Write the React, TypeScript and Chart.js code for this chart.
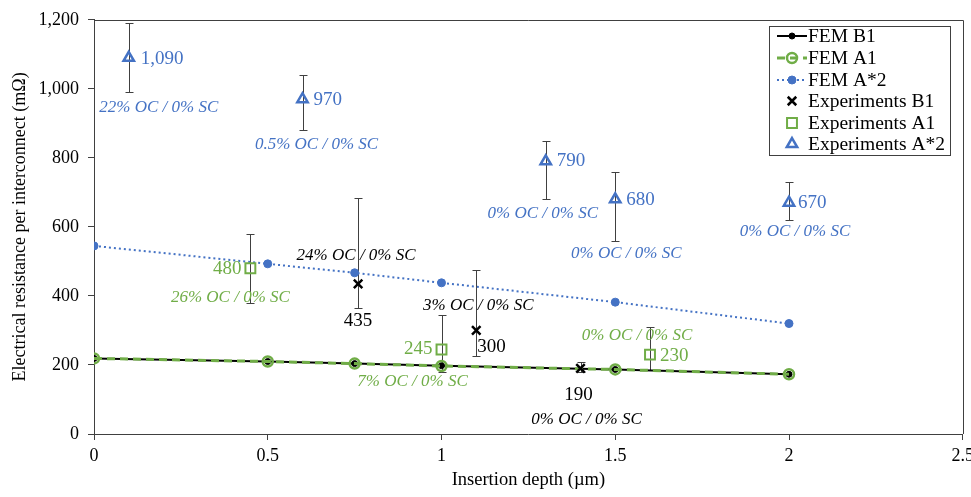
import { useEffect, useRef } from 'react';
import { Chart, registerables } from 'chart.js';
Chart.register(...registerables);

const xTicks = [0, 0.5, 1, 1.5, 2, 2.5];
const yTicks = [0, 200, 400, 600, 800, 1000, 1200];

const femX = [0, 0.5, 0.75, 1, 1.5, 2];
const femB1 = [219, 210, 204, 198, 187, 173];
const femA1 = [219, 210, 204, 197, 187, 173];
const femA2 = [545, 493, 467, 438, 382, 320];

const expB1X = [0.76, 1.1, 1.4];
const expB1Y = [435, 300, 190];
const expB1Lo = [365, 225, 180];
const expB1Hi = [685, 475, 210];
const expB1Cond = ['24% OC / 0% SC', '3% OC / 0% SC', '0% OC / 0% SC'];

const expA1X = [0.45, 1, 1.6];
const expA1Y = [480, 245, 230];
const expA1Lo = [380, 180, 185];
const expA1Hi = [580, 345, 310];
const expA1Cond = ['26% OC / 0% SC', '7% OC / 0% SC', '0% OC / 0% SC'];

const expA2X = [0.1, 0.6, 1.3, 1.5, 2];
const expA2Y = [1090, 970, 790, 680, 670];
const expA2Lo = [990, 880, 680, 560, 620];
const expA2Hi = [1190, 1040, 850, 760, 730];
const expA2Cond = ['22% OC / 0% SC', '0.5% OC / 0% SC', '0% OC / 0% SC', '0% OC / 0% SC', '0% OC / 0% SC'];

const legendLabels = ['FEM B1', 'FEM A1', 'FEM A*2', 'Experiments B1', 'Experiments A1', 'Experiments A*2'];

// label layout (pixel offsets from the marker): [value dx, value dy, value align, cond dx, cond dy]
const layoutB1: [number, number, CanvasTextAlign, number, number][] = [
  [0, 37, 'center', -2, -28],
  [1, 17, 'left', 2, -25],
  [-2, 27, 'center', 6, 51],
];
const layoutA1: [number, number, CanvasTextAlign, number, number][] = [
  [-9, 1, 'right', -20, 29],
  [-9, 0, 'right', -29, 32],
  [10, 1, 'left', -13, -19],
];
const layoutA2: [number, number, CanvasTextAlign, number, number][] = [
  [12, 1, 'left', 30, 50],
  [11, 1, 'left', 14, 45],
  [11, 0, 'left', -3, 52],
  [11, 1, 'left', 11, 54],
  [9, 0, 'left', 6, 29],
];

const BLUE = '#4472C4';
const GREEN = '#70AD47';
const BLACK = '#000000';
const SERIF = '"Liberation Serif", "Times New Roman", serif';

const fmt = (v: number) => v.toLocaleString('en-US');

function drawPoint(ctx: CanvasRenderingContext2D, style: string, r: number, x: number, y: number, fill: string) {
  ctx.beginPath();
  if (style === 'circle') {
    ctx.arc(x, y, r, 0, Math.PI * 2);
    if (fill !== 'transparent') ctx.fill();
    ctx.stroke();
  } else if (style === 'crossRot') {
    const d = r * Math.SQRT1_2;
    ctx.moveTo(x - d, y - d);
    ctx.lineTo(x + d, y + d);
    ctx.moveTo(x + d, y - d);
    ctx.lineTo(x - d, y + d);
    ctx.stroke();
  } else if (style === 'rect') {
    const s = r * Math.SQRT1_2;
    ctx.rect(x - s, y - s, s * 2, s * 2);
    ctx.stroke();
  } else if (style === 'triangle') {
    const h = r;
    const ang = Math.PI / 6;
    ctx.moveTo(x, y - h);
    ctx.lineTo(x + Math.cos(ang) * h, y + Math.sin(ang) * h);
    ctx.lineTo(x - Math.cos(ang) * h, y + Math.sin(ang) * h);
    ctx.closePath();
    ctx.stroke();
  }
}

export default function App() {
  const ref = useRef<HTMLCanvasElement>(null);
  useEffect(() => {
    if (!ref.current) return;
    const pts = (xs: number[], ys: number[]) => xs.map((x, i) => ({ x, y: ys[i] }));

    const errGroups = [
      { xs: expB1X, lo: expB1Lo, hi: expB1Hi },
      { xs: expA1X, lo: expA1Lo, hi: expA1Hi },
      { xs: expA2X, lo: expA2Lo, hi: expA2Hi },
    ];
    const labelGroups = [
      { xs: expB1X, ys: expB1Y, cond: expB1Cond, lay: layoutB1, color: BLACK },
      { xs: expA1X, ys: expA1Y, cond: expA1Cond, lay: layoutA1, color: GREEN },
      { xs: expA2X, ys: expA2Y, cond: expA2Cond, lay: layoutA2, color: BLUE },
    ];

    const extras = {
      id: 'extras',
      beforeDatasetsDraw(chart: any) {
        const ctx = chart.ctx;
        const xs = chart.scales.x;
        const ys = chart.scales.y;
        ctx.save();
        ctx.strokeStyle = '#404040';
        ctx.lineWidth = 1;
        errGroups.forEach((g) => {
          g.xs.forEach((x, i) => {
            const px = Math.round(xs.getPixelForValue(x)) + 0.5;
            const p1 = Math.round(ys.getPixelForValue(g.lo[i])) + 0.5;
            const p2 = Math.round(ys.getPixelForValue(g.hi[i])) + 0.5;
            ctx.beginPath();
            ctx.moveTo(px, p1);
            ctx.lineTo(px, p2);
            ctx.moveTo(px - 4, p1);
            ctx.lineTo(px + 4, p1);
            ctx.moveTo(px - 4, p2);
            ctx.lineTo(px + 4, p2);
            ctx.stroke();
          });
        });
        ctx.restore();
      },
      afterDraw(chart: any) {
        const ctx = chart.ctx;
        const xs = chart.scales.x;
        const ys = chart.scales.y;
        const a = chart.chartArea;
        ctx.save();
        // frame top/right
        ctx.strokeStyle = '#404040';
        ctx.lineWidth = 1;
        ctx.beginPath();
        ctx.moveTo(a.left, Math.round(a.top) + 0.5);
        ctx.lineTo(Math.round(a.right) + 0.5, Math.round(a.top) + 0.5);
        ctx.lineTo(Math.round(a.right) + 0.5, a.bottom);
        ctx.stroke();

        // labels
        ctx.textBaseline = 'middle';
        labelGroups.forEach((g) => {
          g.xs.forEach((x, i) => {
            const px = xs.getPixelForValue(x);
            const py = ys.getPixelForValue(g.ys[i]);
            const l = g.lay[i];
            ctx.fillStyle = g.color;
            ctx.font = `19px ${SERIF}`;
            ctx.textAlign = l[2];
            ctx.fillText(fmt(g.ys[i]), px + l[0], py + l[1]);
            ctx.font = `italic 17px ${SERIF}`;
            ctx.textAlign = 'center';
            ctx.fillText(g.cond[i], px + l[3], py + l[4]);
          });
        });

        // legend
        const lx = 769, ly = 26, lw = 181, lh = 129;
        ctx.fillStyle = '#ffffff';
        ctx.fillRect(lx, ly, lw, lh);
        ctx.strokeStyle = '#404040';
        ctx.lineWidth = 1;
        ctx.strokeRect(lx + 0.5, ly + 0.5, lw, lh);
        const rowY = [36, 58, 80, 101, 123, 144];
        const ds = chart.data.datasets;
        rowY.forEach((y, i) => {
          const d = ds[i];
          const cx = 792;
          if (i < 3) {
            ctx.save();
            ctx.strokeStyle = d.borderColor;
            ctx.lineWidth = d.borderWidth;
            ctx.setLineDash(d.borderDash || []);
            ctx.beginPath();
            ctx.moveTo(777, y);
            ctx.lineTo(807, y);
            ctx.stroke();
            ctx.restore();
          }
          ctx.save();
          ctx.strokeStyle = d.pointBorderColor;
          ctx.fillStyle = d.pointBackgroundColor;
          ctx.lineWidth = d.pointBorderWidth;
          drawPoint(ctx, d.pointStyle, d.pointRadius, cx, y, d.pointBackgroundColor);
          ctx.restore();
          ctx.fillStyle = BLACK;
          ctx.font = `19.5px ${SERIF}`;
          ctx.textAlign = 'left';
          ctx.textBaseline = 'middle';
          ctx.fillText(legendLabels[i], 808, y + 1);
        });
        ctx.restore();
      },
    };

    const chart = new Chart(ref.current, {
      type: 'scatter',
      data: {
        datasets: [
          {
            label: legendLabels[0],
            data: pts(femX, femB1),
            showLine: true,
            borderColor: BLACK,
            borderWidth: 2,
            pointStyle: 'circle',
            pointRadius: 3,
            pointBackgroundColor: BLACK,
            pointBorderColor: BLACK,
            pointBorderWidth: 1,
            order: 3,
          } as any,
          {
            label: legendLabels[1],
            data: pts(femX, femA1),
            showLine: true,
            borderColor: GREEN,
            borderWidth: 3,
            borderDash: [8, 5],
            pointStyle: 'circle',
            pointRadius: 5,
            pointBackgroundColor: 'transparent',
            pointBorderColor: GREEN,
            pointBorderWidth: 2.5,
            order: 2,
          },
          {
            label: legendLabels[2],
            data: pts(femX, femA2),
            showLine: true,
            borderColor: BLUE,
            borderWidth: 2,
            borderDash: [2, 3],
            pointStyle: 'circle',
            pointRadius: 4,
            pointBackgroundColor: BLUE,
            pointBorderColor: BLUE,
            pointBorderWidth: 1,
            order: 1,
          },
          {
            label: legendLabels[3],
            data: pts(expB1X, expB1Y),
            showLine: false,
            pointStyle: 'crossRot',
            pointRadius: 6,
            pointBackgroundColor: BLACK,
            pointBorderColor: BLACK,
            pointBorderWidth: 2.5,
            borderColor: BLACK,
          },
          {
            label: legendLabels[4],
            data: pts(expA1X, expA1Y),
            showLine: false,
            pointStyle: 'rect',
            pointRadius: 7,
            pointBackgroundColor: 'transparent',
            pointBorderColor: GREEN,
            pointBorderWidth: 2,
            borderColor: GREEN,
          },
          {
            label: legendLabels[5],
            data: pts(expA2X, expA2Y),
            showLine: false,
            pointStyle: 'triangle',
            pointRadius: 6,
            pointBackgroundColor: 'transparent',
            pointBorderColor: BLUE,
            pointBorderWidth: 2.5,
            borderColor: BLUE,
          },
        ],
      },
      options: {
        animation: false,
        responsive: false,
        maintainAspectRatio: false,
        layout: { padding: { top: 17, right: 0, left: 0, bottom: 0 } },
        plugins: {
          legend: { display: false },
          tooltip: { enabled: false },
        },
        scales: {
          x: {
            type: 'linear',
            min: 0,
            max: 2.5,
            afterBuildTicks: (s: any) => {
              s.ticks = xTicks.map((v) => ({ value: v }));
            },
            afterFit: (s: any) => {
              s.height = 63;
            },
            ticks: {
              color: BLACK,
              font: { family: SERIF, size: 18 },
              padding: 5,
              maxRotation: 0,
              callback: (v: any) => String(v),
            },
            grid: { drawOnChartArea: false, drawTicks: true, tickLength: 6, color: '#404040' },
            border: { display: true, color: '#404040', width: 1 },
            title: {
              display: true,
              text: 'Insertion depth (µm)',
              color: BLACK,
              font: { family: SERIF, size: 18.5 },
              padding: { top: 0, bottom: 6 },
            },
          },
          y: {
            type: 'linear',
            min: 0,
            max: 1200,
            afterBuildTicks: (s: any) => {
              s.ticks = yTicks.map((v) => ({ value: v }));
            },
            afterFit: (s: any) => {
              s.width = 94;
            },
            ticks: {
              color: BLACK,
              font: { family: SERIF, size: 18 },
              padding: 9,
              callback: (v: any) => fmt(Number(v)),
            },
            grid: { drawOnChartArea: false, drawTicks: true, tickLength: 6, color: '#404040' },
            border: { display: true, color: '#404040', width: 1 },
            title: {
              display: true,
              text: 'Electrical resistance per interconnect (mΩ)',
              color: BLACK,
              font: { family: SERIF, size: 18 },
              padding: { top: 9, bottom: 0 },
            },
          },
        },
      },
      plugins: [extras],
    });
    return () => chart.destroy();
  }, []);

  return (
    <div style={{ position: 'fixed', left: 0, top: 0, width: 971, height: 497, overflow: 'hidden', background: '#fff' }}>
      <canvas ref={ref} width={979} height={497} style={{ width: 979, height: 497, display: 'block' }} />
    </div>
  );
}
